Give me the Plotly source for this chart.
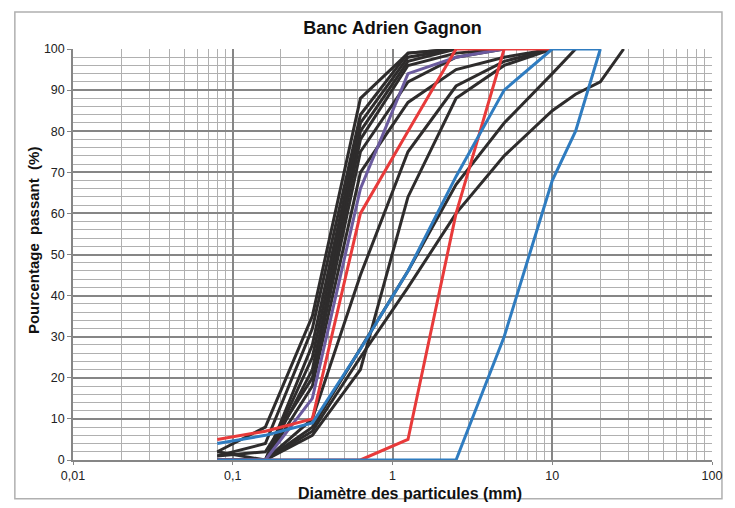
import plotly.graph_objects as go

# Sieve sizes (mm)
sieves = [0.08, 0.16, 0.315, 0.63, 1.25, 2.5, 5, 10, 14, 20, 28]

# Percent passing, black samples (values for the first sieves)
black_series = {
    "K1": [2, 8, 35, 88, 99, 100],
    "K2": [1, 4, 32, 84, 99, 100],
    "K3": [0, 0, 28, 82, 98, 100],
    "K4": [2, 0, 25, 80, 97, 100],
    "K5": [0, 0, 22, 78, 96, 99, 100],
    "K6": [1, 2, 20, 75, 92, 98, 100],
    "K7": [0, 0, 18, 70, 87, 95, 98, 100],
    "X": [0, 0, 10, 45, 75, 91, 97, 100],
    "Y": [0, 0, 6, 22, 64, 88, 96, 100],
    "A": [0, 0, 8, 27, 46, 67, 82, 94, 100],
    "B": [0, 0, 7, 25, 42, 60, 74, 85, 89, 92, 100],
}
purple_series = {"P1": [0, 0, 15, 66, 94, 98, 100]}
red_series = {
    "R1": [5, 7, 10, 60, 80, 100, 100],
    "R2": [0, 0, 0, 0, 5, 60, 100, 100],
}
blue_series = {
    "L1": [4, 6, 9, 27, 46, 69, 90, 100, 100, 100],
    "L2": [0, 0, 0, 0, 0, 0, 30, 68, 80, 100],
}

x_tickvals = [0.01, 0.1, 1, 10, 100]
x_ticktext = ["0,01", "0,1", "1", "10", "100"]

title_text = "Banc Adrien Gagnon"
x_title = "Diamètre des particules (mm)"
y_title = "Pourcentage  passant  (%)"

fig = go.Figure()

def add_group(series, color):
    for name, vals in series.items():
        fig.add_trace(go.Scatter(
            x=sieves[:len(vals)], y=vals, mode="lines", name=name,
            line=dict(color=color, width=3), showlegend=False,
            cliponaxis=False,
        ))

add_group(black_series, "#2e2c2c")
add_group(purple_series, "#6b5b9e")
add_group(red_series, "#e83a3a")
add_group(blue_series, "#2f7cc0")

font = "Liberation Sans, Arial, sans-serif"
fig.update_layout(
    width=727, height=500,
    margin=dict(l=65, r=23, t=41, b=48),
    paper_bgcolor="white", plot_bgcolor="white",
    title=dict(text="<b>" + title_text + "</b>", x=0.5, xref="paper", xanchor="center",
               y=0.96, yref="container", yanchor="middle",
               font=dict(family=font, size=18, color="#111")),
    font=dict(family=font, size=12, color="#222"),
)
fig.update_xaxes(
    type="log", range=[-2, 2],
    tickvals=x_tickvals, ticktext=x_ticktext,
    showgrid=True, gridcolor="#868686", gridwidth=1.5,
    minor=dict(dtick="D1", showgrid=True, gridcolor="#b0b0b0", gridwidth=1.4, ticks=""),
    ticks="outside", ticklen=3, tickcolor="#868686",
    showline=True, linecolor="#868686", linewidth=1.5,
    zeroline=False,
    tickfont=dict(family=font, size=12.5, color="#222"),
)
fig.update_yaxes(
    range=[0, 100], dtick=10,
    showgrid=True, gridcolor="#868686", gridwidth=1.5,
    minor=dict(dtick=2, showgrid=True, gridcolor="#b0b0b0", gridwidth=1.4, ticks=""),
    ticks="outside", ticklen=4, tickcolor="#868686",
    showline=True, linecolor="#868686", linewidth=1.5,
    zeroline=False,
    tickfont=dict(family=font, size=12.5, color="#222"),
)
fig.add_annotation(text="<b>" + x_title + "</b>", xref="paper", yref="paper",
                   x=0.527, y=-0.082, xanchor="center", yanchor="middle", showarrow=False,
                   font=dict(family=font, size=16, color="#111"))
fig.add_annotation(text="<b>" + y_title + "</b>", xref="paper", yref="paper",
                   x=-0.0626, y=0.535, xanchor="center", yanchor="middle", showarrow=False,
                   textangle=-90, font=dict(family=font, size=15, color="#111"))
fig.add_shape(type="rect", xref="paper", yref="paper",
              x0=-0.091, x1=1.0156, y0=-0.094, y1=1.09,
              line=dict(color="#b0b0b0", width=1.5), fillcolor="rgba(0,0,0,0)", layer="below")

fig.write_html("out.html")
